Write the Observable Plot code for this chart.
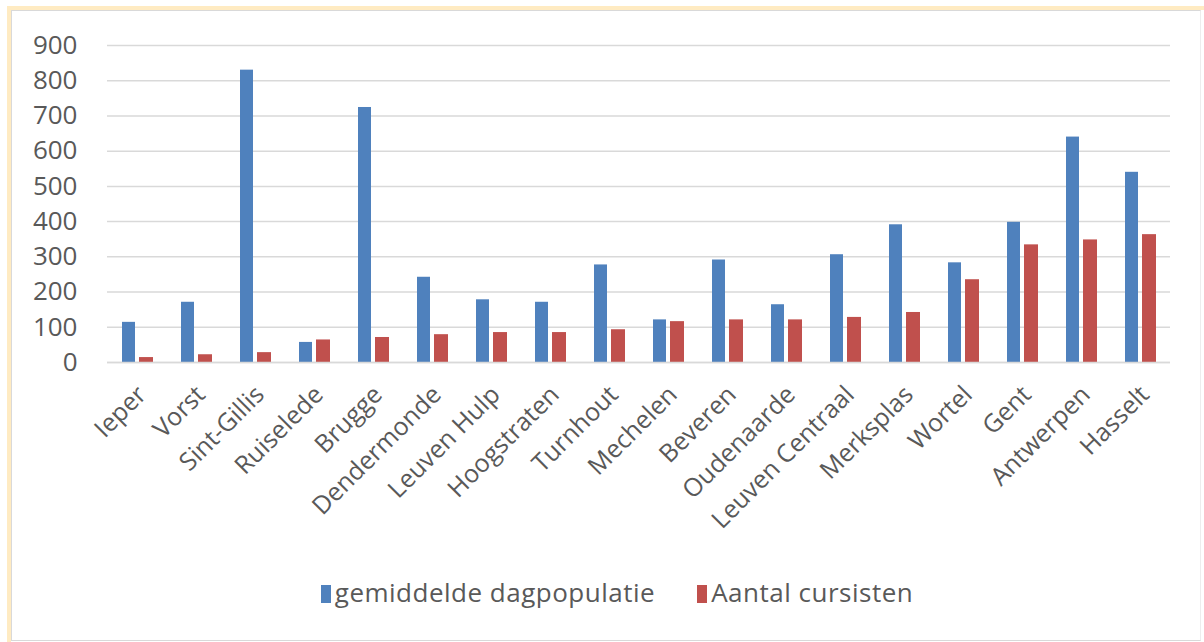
<!DOCTYPE html>
<html>
<head>
<meta charset="utf-8">
<script src="https://cdn.jsdelivr.net/npm/d3@7"></script>
<script src="https://cdn.jsdelivr.net/npm/@observablehq/plot@0.6"></script>
<style>
  html, body { margin: 0; padding: 0; background: #fff; }
  #frame {
    position: absolute; left: 7px; top: 6px; width: 1197px; height: 636px;
    border-top: 4px solid #FFEBC2; border-left: 4px solid #FFEBC2; box-sizing: border-box;
  }
  #inner {
    position: absolute; left: 0; top: 0; right: 3px; bottom: 1px;
    border: 1px solid #D9D9D9; border-right-color: #EDEDED;
  }
  #chart { position: absolute; left: 0; top: 0; }
  #legend {
    position: absolute; left: 15px; width: 1204px; top: 574px; text-align: center;
    font-family: "Open Sans", sans-serif; font-size: 26px; color: #595959; letter-spacing: 0.5px;
  }
  #legend span.item { display: inline-block; margin: 0 21px; }
  #legend span.sw { display: inline-block; width: 10px; height: 18px; margin-right: 4px; vertical-align: -1px; }
</style>
</head>
<body>
<div id="frame"><div id="inner"></div></div>
<div id="chart"></div>
<div id="legend"></div>
<script>
const cities = ["Ieper","Vorst","Sint-Gillis","Ruiselede","Brugge","Dendermonde","Leuven Hulp","Hoogstraten","Turnhout","Mechelen","Beveren","Oudenaarde","Leuven Centraal","Merksplas","Wortel","Gent","Antwerpen","Hasselt"];
const dagpopulatie = [114,171,830,57,724,242,178,171,277,121,291,164,306,391,283,398,640,540];
const cursisten = [14,22,28,64,71,79,85,85,93,116,121,121,128,142,235,334,348,363];
const seriesNames = ["gemiddelde dagpopulatie","Aantal cursisten"];
const seriesColors = ["#4F81BD","#C0504D"];
const yTicks = [0,100,200,300,400,500,600,700,800,900];

const blue = cities.map((c,i) => ({city: c, value: dagpopulatie[i]}));
const red = cities.map((c,i) => ({city: c, value: cursisten[i]}));

const chart = Plot.plot({
  width: 1204,
  height: 560,
  marginLeft: 107,
  marginRight: 34,
  marginTop: 45,
  marginBottom: 198,
  style: {fontFamily: "Open Sans, sans-serif", color: "#595959", background: "transparent"},
  x: {domain: cities, padding: 0, label: null},
  y: {domain: [0, 900], label: null},
  marks: [
    Plot.gridY(yTicks, {stroke: "#D9D9D9", strokeOpacity: 1, strokeWidth: 1.5}),
    Plot.barY(blue, {x: "city", y: "value", fill: seriesColors[0], insetLeft: 14, insetRight: 32}),
    Plot.barY(red, {x: "city", y: "value", fill: seriesColors[1], insetLeft: 31, insetRight: 14}),
    Plot.ruleY([0], {stroke: "#D9D9D9", strokeWidth: 1.5}),
    Plot.axisY(yTicks, {tickSize: 0, tickPadding: 30, fontSize: 26, label: null, fill: "#595959"}),
    Plot.axisX({tickSize: 0, tickRotate: -45, tickPadding: 28, fontSize: 25, label: null, fill: "#595959", dx: 4})
  ]
});
document.getElementById("chart").appendChild(chart);

const legend = document.getElementById("legend");
seriesNames.forEach((n, i) => {
  const item = document.createElement("span");
  item.className = "item";
  const sw = document.createElement("span");
  sw.className = "sw";
  sw.style.background = seriesColors[i];
  item.appendChild(sw);
  item.appendChild(document.createTextNode(n));
  legend.appendChild(item);
});
</script>
</body>
</html>
